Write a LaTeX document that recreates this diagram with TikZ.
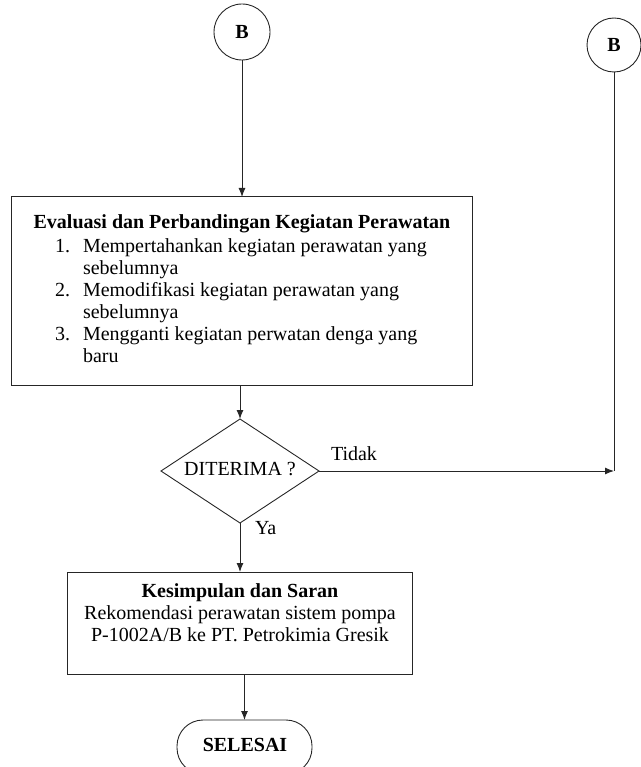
\documentclass[tikz,border=0pt]{standalone}
\usepackage{fontspec}
\setmainfont{Liberation Serif}
\usetikzlibrary{shapes.geometric,arrows.meta}
\newcommand{\itemno}[1]{\makebox[28pt][l]{#1}}
\begin{document}
\begin{tikzpicture}[x=1pt,y=-1pt,
  every node/.style={inner sep=0pt, outer sep=0pt},
  line/.style={line width=1pt, draw=black!85},
  arr/.style={line, -{Latex[length=9pt,width=7pt]}},
  connector/.style={circle, draw=black!85, line width=0.9pt, minimum size=56pt,
                    font=\fontsize{20}{22}\selectfont\bfseries},
  procbox/.style={rectangle, draw=black!85, line width=1pt},
  decision/.style={diamond, draw=black!85, line width=0.9pt, aspect=1.52,
                   minimum width=158pt, minimum height=104pt},
  terminal/.style={rectangle, rounded corners=26pt, draw=black!85, line width=0.9pt,
                   minimum width=135pt, minimum height=54pt},
  txt/.style={font=\fontsize{20}{22}\selectfont},
  btxt/.style={font=\fontsize{20}{22}\selectfont\bfseries}
]
\useasboundingbox (0,0) rectangle (640,767);

% off-page connectors
\node[connector] (b1) at (242,32) {B};
\node[connector, minimum size=54pt] (b2) at (614,45) {B};

% evaluation box
\node[procbox, minimum width=461pt, minimum height=188pt] (eval) at (241.5,291) {};
\node[btxt, anchor=base] (evalh) at (242,228)
  {Evaluasi dan Perbandingan Kegiatan Perawatan};
\node[txt, anchor=north west, align=left] (evall) at (55,237) {%
  \begin{tabular}{@{}l@{}l@{}}
  \itemno{1.} & Mempertahankan kegiatan perawatan yang\\
     & sebelumnya\\
  \itemno{2.} & Memodifikasi kegiatan perawatan yang\\
     & sebelumnya\\
  \itemno{3.} & Mengganti kegiatan perwatan denga yang\\
     & baru
  \end{tabular}};

% decision
\node[decision] (dec) at (240,471) {};
\node[txt] (dect) at (240,469) {DITERIMA ?};

% conclusion box
\node[procbox, minimum width=345pt, minimum height=102pt] (concl) at (239.5,623) {};
\node[txt, anchor=north, align=center] (conclt) at (240,584) {%
  \textbf{Kesimpulan dan Saran}\\
  Rekomendasi perawatan sistem pompa\\
  P-1002A/B ke PT. Petrokimia Gresik};

% end terminal
\node[terminal] (end) at (244.5,747) {};
\node[btxt] (endt) at (245,745) {SELESAI};

% return path
\coordinate (turn) at (b2.south |- dec.east);

% connectors
\draw[arr] (b1.south) -- (b1.south |- eval.north);
\draw[arr] (eval.south -| dec.north) -- (dec.north);
\draw[arr] (dec.east) -- (turn);
\node[txt, anchor=base west] (tidak) at (331,460) {Tidak};
\draw[line] (b2.south) -- (turn);
\draw[arr] (dec.south) -- (dec.south |- concl.north);
\node[txt, anchor=base west] (ya) at (255,534) {Ya};
\draw[arr] (concl.south -| end.north) -- (end.north);
\end{tikzpicture}
\end{document}
